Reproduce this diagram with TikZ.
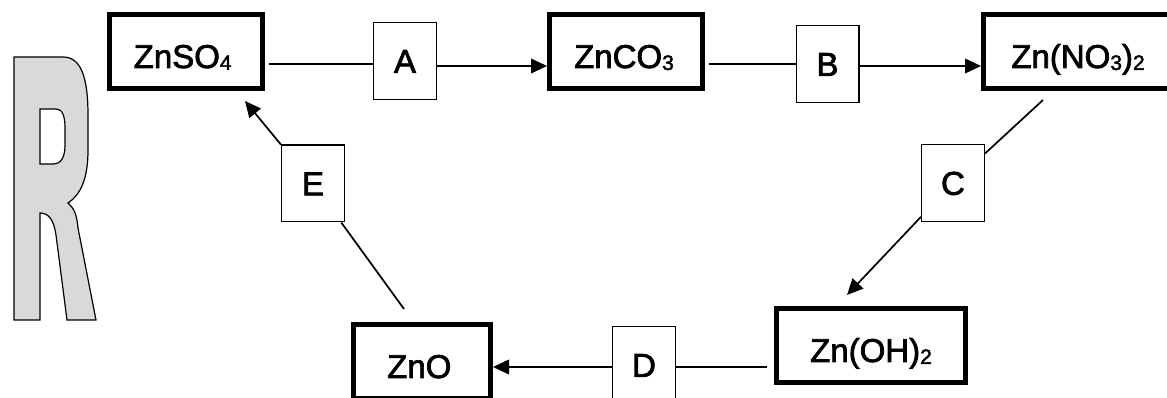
\documentclass[tikz,border=0pt]{standalone}
\usepackage{fontspec}
\setmainfont[FakeBold=2.2]{Liberation Sans}
\usetikzlibrary{arrows.meta}
\definecolor{rgray}{HTML}{D9D9D9}
\newcommand\subdig[1]{\raisebox{-1.5pt}{\fontsize{15.75pt}{16pt}\selectfont #1}}
\begin{document}
\begin{tikzpicture}[x=0.75pt,y=-0.75pt,
  chembox/.style={draw, line width=3.75pt, inner sep=0pt, minimum height=55.5pt,
    text height=30pt, text depth=5.25pt, font=\fontsize{24.75pt}{28pt}\selectfont},
  stepbox/.style={draw, line width=1pt, fill=white, inner sep=0pt, minimum width=47pt,
    minimum height=57.5pt, text height=17.7pt, text depth=0pt,
    font=\fontsize{24.75pt}{28pt}\selectfont},
  conn/.style={line width=1.3pt},
  arr/.style={conn, -{Triangle[length=12pt,width=11pt]}}]
\useasboundingbox (0,0) rectangle (1167,398);
\clip (0,0) rectangle (1167,398);
% the R glyph
\draw[fill=rgray, line width=0.9pt, even odd rule]
  (14,320) -- (14,57) -- (63,57) .. controls (80,57) and (88,75) .. (88,115)
  -- (88,150) .. controls (88,180) and (80,195) .. (68,203)
  .. controls (74,208) and (77,215) .. (78,228) -- (96,320) -- (67,320) -- (56,235)
  .. controls (54,222) and (50,213) .. (40,213) -- (40,320) -- cycle
  (40,109) -- (56,109) .. controls (62,109) and (65,115) .. (65,128) -- (65,146)
  .. controls (65,158) and (60,164) .. (54,164) -- (40,164) -- cycle;
% compound boxes
\node[chembox, minimum width=114.75pt] (znso4) at (186,51.5) {\hspace*{-5pt}ZnSO\subdig{4}};
\node[chembox, minimum width=114.75pt] (znco3) at (626,51.5) {\hspace*{-3pt}ZnCO\subdig{3}};
\node[chembox, minimum width=141.75pt] (znno3) at (1078,51.5) {Zn(NO\subdig{3})\subdig{2}};
\node[chembox, minimum width=141.75pt] (znoh) at (871,345.5) {Zn(OH)\subdig{2}};
\node[chembox, minimum width=102.75pt] (zno) at (422,361.5) {\hspace*{-4pt}ZnO};
% step boxes
\node[stepbox] (A) at (405,61) {A};
\node[stepbox] (B) at (827.5,64) {B};
\node[stepbox] (C) at (953,183) {C};
\node[stepbox] (D) at (644,365) {D};
\node[stepbox] (E) at (313,183.5) {E};
% helper coordinates
\coordinate (h1) at (0,64);
\coordinate (h2) at (0,66);
\coordinate (h3) at (0,367);
\coordinate (c1) at (1043,100);
\coordinate (c2) at (847,295);
\coordinate (e1) at (404,309);
\coordinate (e2) at (245,101);
% connectors
\draw[conn, shorten <=3pt] (znso4.east |- h1) -- (A.west |- h1);
\draw[arr] (A.east |- h2) -- (znco3.west |- h2);
\draw[conn, shorten <=3pt] (znco3.east |- h1) -- (B.west |- h1);
\draw[arr] (B.east |- h2) -- (znno3.west |- h2);
\draw[conn] (c1) -- (C);
\draw[arr] (C) -- (c2);
\draw[conn, shorten <=5pt] (znoh.west |- h3) -- (D.east |- h3);
\draw[arr] (D.west |- h3) -- (zno.east |- h3);
\draw[conn] (e1) -- (E);
\draw[arr] (E) -- (e2);
\end{tikzpicture}
\end{document}
